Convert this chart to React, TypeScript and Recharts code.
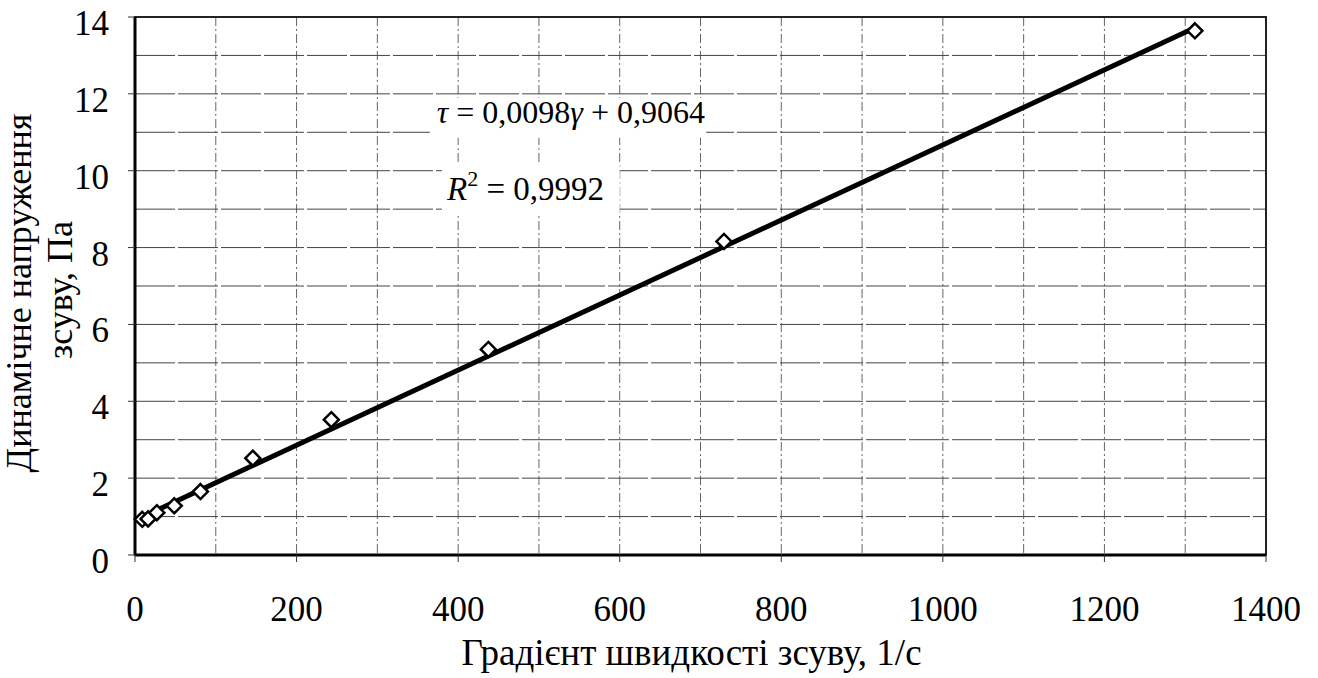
import {
  ScatterChart, Scatter, XAxis, YAxis, CartesianGrid, ReferenceArea,
} from 'recharts'

// shear rate, 1/s and measured shear stress, Pa
const shearRate = [9, 16.2, 27, 48.6, 81, 145.8, 243, 437.4, 729, 1312]
const stress = [0.93, 0.94, 1.1, 1.28, 1.65, 2.52, 3.52, 5.35, 8.16, 13.64]

// linear trendline ends as drawn
const trendX = [9, 1312]
const trendY = [0.99, 13.72]

const xTicks = [0, 200, 400, 600, 800, 1000, 1200, 1400]
const yTicks = [0, 2, 4, 6, 8, 10, 12, 14]
const xGrid = [0, 100, 200, 300, 400, 500, 600, 700, 800, 900, 1000, 1100, 1200, 1300, 1400]
const yGrid = [0, 1, 2, 3, 4, 5, 6, 7, 8, 9, 10, 11, 12, 13, 14]

const FONT = '"Liberation Serif", "Times New Roman", serif'
const serif = { fontFamily: FONT }

const points = shearRate.map((x, i) => ({ x, y: stress[i] }))
const trend = trendX.map((x, i) => ({ x, y: trendY[i] }))

function Diamond({ cx, cy }: any) {
  const r = 7.5
  return (
    <path
      d={`M${cx},${cy - r}L${cx + r},${cy}L${cx},${cy + r}L${cx - r},${cy}Z`}
      fill="#fff"
      stroke="#000"
      strokeWidth={2.5}
    />
  )
}

function XTick({ x, y, payload }: any) {
  return (
    <text x={x} y={y + 59} textAnchor="middle" style={serif} fontSize={35} fill="#000">
      {payload.value}
    </text>
  )
}

function YTick({ x, y, payload }: any) {
  return (
    <text x={x} y={y + 18} textAnchor="end" style={serif} fontSize={35} fill="#000">
      {payload.value}
    </text>
  )
}

function YTitle() {
  return (
    <g style={serif} fontSize={36} fill="#000">
      <text x={31} y={293} textAnchor="middle" transform="rotate(-90, 31, 293)">
        Динамічне напруження
      </text>
      <text x={72} y={290} textAnchor="middle" transform="rotate(-90, 72, 290)">
        зсуву, Па
      </text>
    </g>
  )
}

function EqLabel({ viewBox }: any) {
  return (
    <text x={viewBox.x + 7} y={viewBox.y + 25} style={serif} fontSize={32} fill="#000">
      <tspan fontStyle="italic">τ</tspan> = 0,0098<tspan fontStyle="italic">γ</tspan> + 0,9064
    </text>
  )
}

function R2Label({ viewBox }: any) {
  return (
    <text x={viewBox.x + 5} y={viewBox.y + 35} style={serif} fontSize={33} fill="#000">
      <tspan fontStyle="italic">R</tspan>
      <tspan fontSize={22} dy={-14}>2</tspan>
      <tspan dy={14}>{'\u00a0= 0,9992'}</tspan>
    </text>
  )
}

export default function App() {
  return (
    <div style={{ position: 'absolute', left: 0, top: 0, background: '#fff' }}>
      <ScatterChart width={1318} height={678} margin={{ top: 17, right: 52, bottom: 0, left: 0 }}>
        <CartesianGrid
          horizontal={false}
          verticalValues={xGrid}
          stroke="#666"
          strokeDasharray="9 3 2 3"
        />
        <CartesianGrid
          vertical={false}
          horizontalValues={yGrid}
          stroke="#444"
          strokeDasharray="40 3"
        />
        <XAxis
          type="number"
          dataKey="x"
          domain={[0, 1400]}
          ticks={xTicks}
          height={123}
          tickSize={7}
          tickMargin={0}
          tick={<XTick />}
          axisLine={{ stroke: '#000', strokeWidth: 3 }}
          tickLine={{ stroke: '#333' }}
          label={{
            value: 'Градієнт швидкості зсуву, 1/с',
            position: 'insideBottom',
            offset: 13,
            dx: -9,
            style: serif,
            fontSize: 37,
            fill: '#000',
          }}
        />
        <YAxis
          type="number"
          dataKey="y"
          domain={[0, 14]}
          ticks={yTicks}
          width={135}
          tickSize={7}
          tickMargin={19}
          tick={<YTick />}
          axisLine={{ stroke: '#000', strokeWidth: 3 }}
          tickLine={{ stroke: '#333' }}
          label={{ content: () => <YTitle /> }}
        />
        <ReferenceArea x1={0} x2={1400} y1={0} y2={14} fill="none" stroke="#222" strokeWidth={2} />
        <ReferenceArea
          x1={365} x2={707} y1={10.86} y2={11.9}
          fill="#fff" fillOpacity={1} stroke="none"
          label={{ content: (p: any) => <EqLabel viewBox={p.viewBox} /> }}
        />
        <ReferenceArea
          x1={380} x2={600} y1={8.85} y2={10.15}
          fill="#fff" fillOpacity={1} stroke="none"
          label={{ content: (p: any) => <R2Label viewBox={p.viewBox} /> }}
        />
        <Scatter
          data={trend}
          line={{ stroke: '#000', strokeWidth: 5 }}
          shape={() => <g />}
          isAnimationActive={false}
        />
        <Scatter data={points} shape={<Diamond />} isAnimationActive={false} />
      </ScatterChart>
    </div>
  )
}
